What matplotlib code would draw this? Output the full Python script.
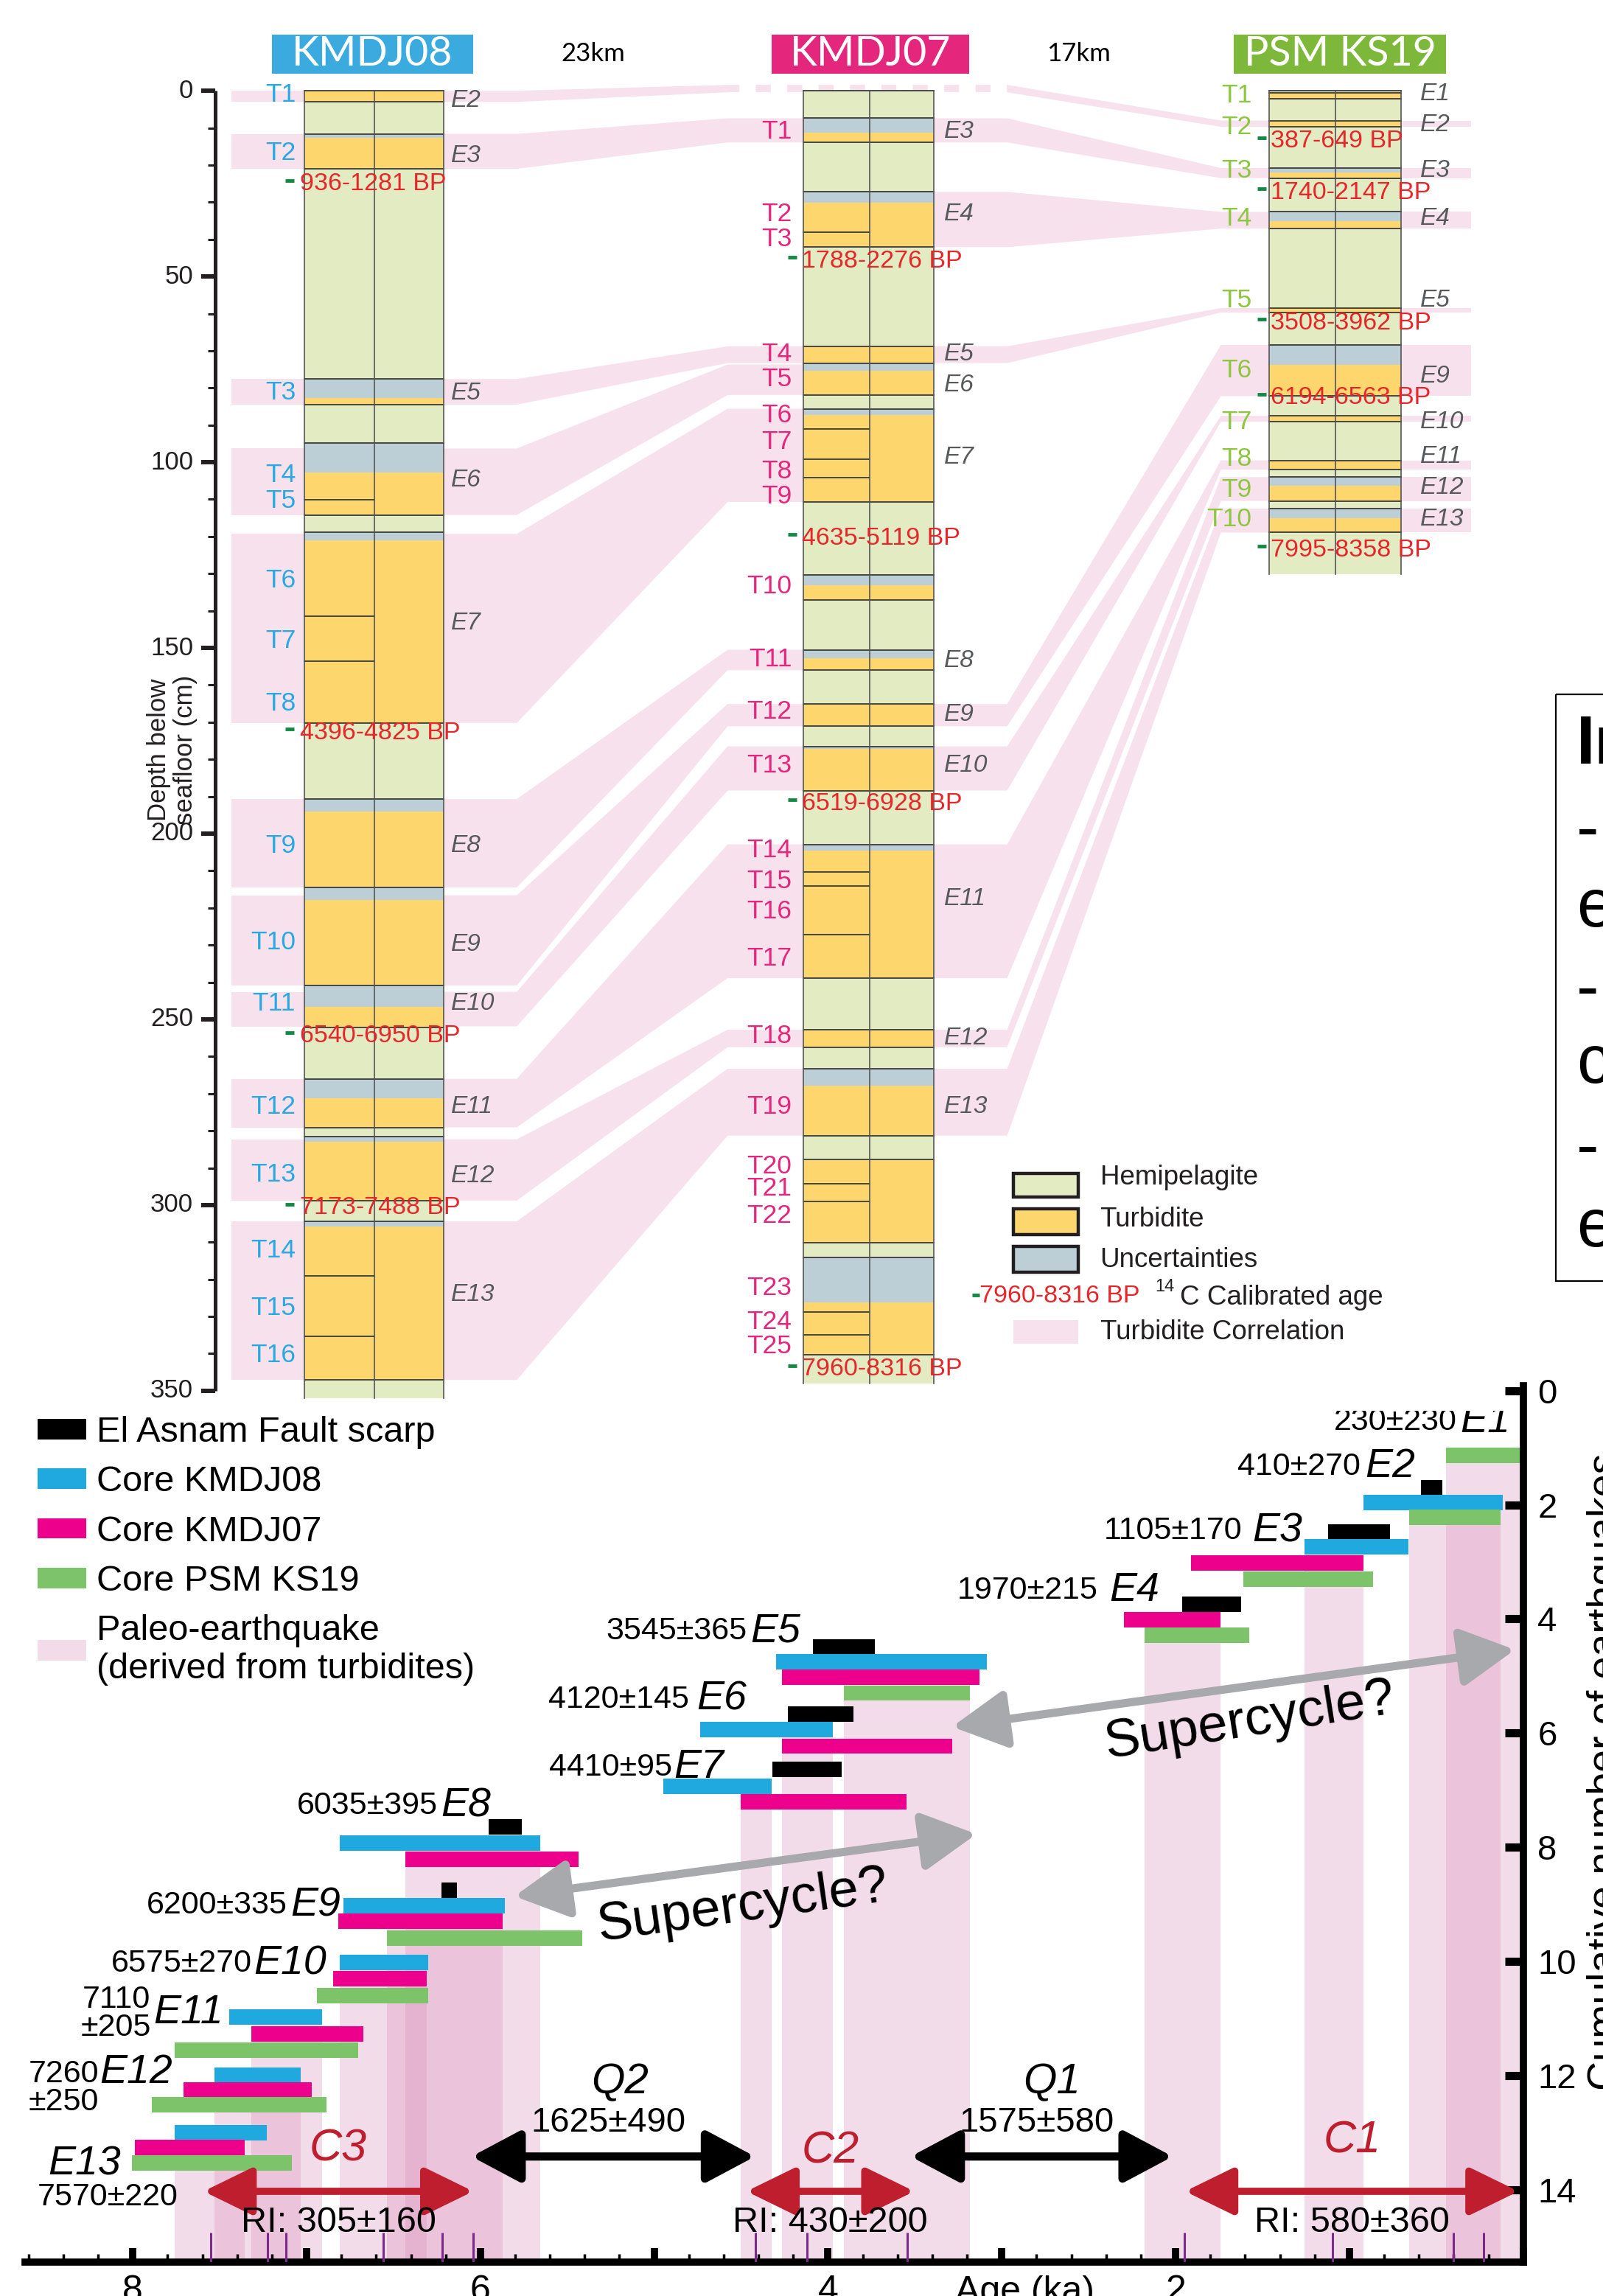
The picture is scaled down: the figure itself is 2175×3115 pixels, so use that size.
import numpy as np
import matplotlib
matplotlib.use("Agg")
import matplotlib.pyplot as plt
from matplotlib.patches import Rectangle, Polygon, Patch
from matplotlib.transforms import Bbox

W, H = 2175, 3115
NARROW = ["Liberation Sans Narrow", "Liberation Sans", "DejaVu Sans"]
SANS = ["Liberation Sans", "DejaVu Sans"]
plt.rcParams["font.family"] = SANS

# ---------------- top panel data: core logs, depth below seafloor (cm) ----------------
# H hemipelagite, T turbidite, U uncertainty
kmdj08_bounds = [0, 3, 11.6, 12.7, 21, 77.6, 82.7, 84.5, 94.8, 102.8, 114.2, 118.8, 121.1,
                 170.2, 190.7, 194.0, 214.5, 217.8, 240.9, 246.6, 252.1, 266.0, 271.2, 279.1,
                 281.5, 283.0, 298.8, 304.4, 305.8, 347.1, 352]
kmdj08_kinds = "THUTHUTHUTHUTHUTUTUTHUTHUTHUTH"
kmdj08_sub = [110.1, 141.5, 153.6, 319.0, 335.3]

kmdj07_bounds = [0, 7.4, 11.3, 13.9, 27.2, 30.2, 42.1, 68.8, 73.3, 75.4, 81.9, 85.6, 87.2,
                 110.7, 130.4, 133.2, 137.0, 150.5, 152.7, 156.0, 165.1, 171.1, 176.5, 177.2,
                 188.4, 202.9, 204.5, 238.9, 252.8, 257.5, 263.3, 267.8, 281.3, 287.7, 310.2,
                 314.1, 326.2, 340.4, 348.0]
kmdj07_kinds = "HUTHUTHTUTHUTHUTHUTHTHUTHUTHTHUTHTHUTH"
kmdj07_sub = [38.0, 91.0, 99.2, 104.2, 210.4, 214.0, 227.2, 294.2, 299.1, 328.7, 335.0]

ks19_bounds = [0, 0.6, 2.1, 8.0, 9.7, 20.8, 22.0, 23.5, 32.6, 35.1, 37.1, 58.5, 59.7, 68.4,
               73.8, 82.2, 87.5, 89.1, 99.5, 102.0, 104.0, 106.4, 110.4, 112.5, 115.1, 118.9, 130.1]
ks19_kinds = "HTHTHUTHUTHTHUTHTHTHUTHUTH"
ks19_sub = []

# turbidite correlation (event E1..E13): depth range in each core
corr08 = [None, (0, 3.0), (11.6, 21), None, (77.6, 84.5), (96.3, 114.2), (119.3, 170.2),
          (190.7, 214.5), (216.6, 240.9), (242.6, 251.9), (266, 279.1), (282.3, 298.8), (304.4, 347.1)]
corr07 = [None, (-1.6, 0.4), (7.4, 13.9), (27.2, 42.1), (68.8, 73.3), (73.7, 81.9), (85.6, 110.7),
          (150.5, 156.0), (165.1, 171.1), (176.5, 188.4), (202.9, 238.9), (252.8, 257.5), (263.3, 281.3)]
corr19 = [None, (8.0, 9.7), (20.8, 23.5), (32.6, 37.1), (58.5, 59.7), None, None, None,
          (68.4, 82.2), (87.5, 89.1), (99.5, 102.0), (104.0, 110.4), (112.5, 118.9)]

t08_depth = [1.1, 16.8, 81.3, 103.4, 110.4, 131.8, 148.2, 164.9, 203.2, 229.3, 245.7, 273.5,
             291.7, 312.2, 327.7, 340.5]
e08_names = ["E2", "E3", "E5", "E6", "E7", "E8", "E9", "E10", "E11", "E12", "E13"]
e08_depth = [2.7, 17.6, 81.5, 104.9, 143.3, 203.2, 229.8, 245.7, 273.5, 292.2, 324.1]

t07_depth = [10.9, 33.3, 40.0, 71.0, 77.6, 87.4, 94.5, 102.5, 109.2, 133.5, 153.1, 167.2, 181.7,
             204.5, 212.8, 220.9, 233.7, 254.5, 273.5, 289.6, 295.6, 302.9, 322.4, 331.4, 338.0]
e07_names = ["E3", "E4", "E5", "E6", "E7", "E8", "E9", "E10", "E11", "E12", "E13"]
e07_depth = [10.9, 33.3, 71.0, 79.2, 98.6, 153.5, 168.0, 181.7, 217.5, 255.0, 273.5]

t19_depth = [1.3, 9.7, 21.5, 34.3, 56.5, 75.3, 89.1, 99.0, 107.4, 115.3]
e19_names = ["E1", "E2", "E3", "E4", "E5", "E9", "E10", "E11", "E12", "E13"]
e19_depth = [0.8, 9.2, 21.5, 34.3, 56.5, 76.8, 89.1, 98.5, 106.9, 115.3]

dates08 = ["936-1281 BP", "4396-4825 BP", "6540-6950 BP", "7173-7488 BP"]
dates08_depth = [25.1, 172.9, 254.5, 300.8]
dates07 = ["1788-2276 BP", "4635-5119 BP", "6519-6928 BP", "7960-8316 BP"]
dates07_depth = [45.9, 120.5, 191.9, 344.2]
dates19 = ["387-649 BP", "1740-2147 BP", "3508-3962 BP", "6194-6563 BP", "7995-8358 BP"]
dates19_depth = [13.6, 27.4, 62.5, 82.7, 123.6]

depth_ticks = np.arange(0, 351, 10)

# ---------------- bottom panel data: age (ka) vs cumulative number of earthquakes ----------------
scarp_ev = [2, 3, 4, 5, 6, 7, 8, 9]
scarp_old = [0.59, 1.121, 1.964, 4.087, 4.232, 4.318, 5.953, 6.222]
scarp_young = [0.464, 0.768, 1.621, 3.730, 3.853, 3.920, 5.763, 6.134]
scarp_n = [1.70, 2.48, 3.74, 4.49, 5.67, 6.64, 7.64, 8.75]

k08_ev = [2, 3, 5, 6, 7, 8, 9, 10, 11, 12, 13]
k08_old = [0.919, 1.258, 4.299, 4.736, 4.948, 6.808, 6.787, 6.808, 7.445, 7.531, 7.758]
k08_young = [0.119, 0.660, 3.085, 3.972, 4.324, 5.657, 5.860, 6.302, 6.911, 7.032, 7.227]
k08_n = [1.96, 2.74, 4.75, 5.94, 6.93, 7.93, 9.02, 10.02, 10.98, 12.0, 13.0]

k07_ev = [3, 4, 5, 6, 7, 8, 9, 10, 11, 12, 13]
k07_old = [1.913, 2.298, 4.264, 4.264, 4.502, 6.432, 6.816, 6.849, 7.320, 7.707, 7.99]
k07_young = [0.919, 1.743, 3.130, 3.286, 3.550, 5.437, 5.870, 6.308, 6.672, 6.970, 7.357]
k07_n = [3.02, 4.01, 5.02, 6.23, 7.21, 8.21, 9.30, 10.30, 11.27, 12.25, 13.26]

k19_ev = [1, 2, 3, 4, 5, 9, 10, 11, 12, 13]
k19_old = [0.443, 0.654, 1.611, 2.180, 3.907, 6.538, 6.94, 7.758, 7.89, 8.004]
k19_young = [0.0, 0.131, 0.864, 1.576, 3.184, 5.412, 6.302, 6.703, 6.884, 7.083]
k19_n = [1.14, 2.22, 3.30, 4.28, 5.30, 9.59, 10.60, 11.56, 12.51, 13.53]

event_ages = ["230±230", "410±270", "1105±170", "1970±215", "3545±365", "4120±145", "4410±95",
              "6035±395", "6200±335", "6575±270", "7110\n±205", "7260\n±250", "7570±220"]
dated_ages = [7.552, 7.223, 7.120, 6.561, 6.22, 6.041, 4.416, 4.119, 3.546, 1.949, 1.095, 0.4, 0.227]

quiet_names = ["Q2", "Q1"]
quiet_values = ["1625±490", "1575±580"]
quiet_span = [(6.051, 4.42), (3.524, 2.017)]
cluster_names = ["C3", "C2", "C1"]
cluster_ri = ["RI: 305±160", "RI: 430±200", "RI: 580±360"]
cluster_span = [(7.593, 6.041), (4.469, 3.503), (1.945, 0.027)]
super_span = [((5.804, 8.86), (3.146, 7.77)), ((3.286, 5.89), (0.047, 4.54))]

# colours
C_HEMI, C_TURB, C_UNC = "#E3EBC2", "#FDD66E", "#BDCFD6"
C_CORR = "#F6E1ED"
C_08, C_07, C_19 = "#29A9E0", "#E4267D", "#8DC63F"
C_DATE, C_DASH, C_ELAB, C_LINE = "#E8262A", "#138A43", "#58595B", "#3A3A3A"
B_BLUE, B_MAG, B_GREEN = "#1FA9DF", "#EC008C", "#7DC36A"
B_BAND = (0.85, 0.55, 0.72)

fig = plt.figure(figsize=(W / 100, H / 100), dpi=100)
fig.patch.set_facecolor("white")

# ======================= top panel =======================
ax_top = fig.add_axes([0, 1 - 1900 / H, 1, 1900 / H])
ax_top.set_xlim(0, 1095)
ax_top.set_ylim((1900 - 123.2) / 5.039, -123.2 / 5.039)
ax_top.axis("off")

X08 = (208, 303, 256)
X07 = (549, 638, 594)
X19 = (867, 957, 912)


def link(xa, da, xb, db, sa, sb):
    pts = [(xa, da[0]), (sa, da[0]), (sb, db[0]), (xb, db[0]),
           (xb, db[1]), (sb, db[1]), (sa, da[1]), (xa, da[1])]
    ax_top.add_patch(Polygon(pts, closed=True, fc=C_CORR, ec="none", zorder=1))


for k, (b08, b07, b19) in enumerate(zip(corr08, corr07, corr19)):
    dashed = k == 1
    if b08 is not None:
        ax_top.add_patch(Rectangle((158, b08[0]), X08[1] - 158, b08[1] - b08[0],
                                   fc=C_CORR, ec="none", zorder=1))
    if b08 is not None and b07 is not None:
        link(X08[1], b08, 497 if dashed else X07[0], b07, 353, 497)
    if b07 is not None and b19 is not None:
        link(688 if dashed else X07[1], b07, X19[0], b19, 688, 834)
    if b19 is not None:
        ax_top.add_patch(Rectangle((X19[0], b19[0]), 1005 - X19[0], b19[1] - b19[0],
                                   fc=C_CORR, ec="none", zorder=1))
    if dashed:
        mid = (b07[0] + b07[1]) / 2
        ax_top.plot([495, 688], [mid, mid], color=C_CORR, lw=7.3, dashes=(2.0, 2.2),
                    dash_capstyle="butt", zorder=1)


def draw_core(bounds, kinds, sub, xs):
    x0, x1, xm = xs
    fill = {"H": C_HEMI, "T": C_TURB, "U": C_UNC}
    for top, bot, kd in zip(bounds[:-1], bounds[1:], kinds):
        ax_top.add_patch(Rectangle((x0, top), x1 - x0, bot - top, fc=fill[kd], ec="none", zorder=3))
    for i in range(len(bounds) - 1):
        if i > 0 and kinds[i - 1] == "U" and kinds[i] == "T":
            continue
        ax_top.plot([x0, x1], [bounds[i]] * 2, color=C_LINE, lw=1.3, zorder=4)
    for d in sub:
        ax_top.plot([x0, xm], [d, d], color=C_LINE, lw=1.3, zorder=4)
    for x in (x0, xm, x1):
        ax_top.plot([x, x], [bounds[0], bounds[-1]], color="#555555", lw=1.2, zorder=4)


draw_core(kmdj08_bounds, kmdj08_kinds, kmdj08_sub, X08)
draw_core(kmdj07_bounds, kmdj07_kinds, kmdj07_sub, X07)
draw_core(ks19_bounds, ks19_kinds, ks19_sub, X19)

# T / E labels
for depths, xr, col in ((t08_depth, 202, C_08), (t07_depth, 541, C_07), (t19_depth, 855, C_19)):
    for i, d in enumerate(depths):
        ax_top.text(xr, d, f"T{i + 1}", ha="right", va="center", color=col,
                    fontsize=25.5, family=NARROW, zorder=6)
for names, depths, xl in ((e08_names, e08_depth, 308), (e07_names, e07_depth, 645),
                          (e19_names, e19_depth, 970)):
    for nm, d in zip(names, depths):
        ax_top.text(xl, d, nm, ha="left", va="center", color=C_ELAB, fontsize=24,
                    style="italic", family=NARROW, zorder=6)

# 14C ages
for labels, depths, xd, xt in ((dates08, dates08_depth, 198, 205), (dates07, dates07_depth, 541, 548),
                               (dates19, dates19_depth, 862, 868)):
    for lb, d in zip(labels, depths):
        ax_top.plot([xd - 3, xd + 3], [d - 1, d - 1], color=C_DASH, lw=3.5, zorder=6,
                    solid_capstyle="butt")
        ax_top.text(xt, d, lb, ha="left", va="center", color=C_DATE, fontsize=24.5,
                    family=NARROW, zorder=6)

# depth axis
ax_top.plot([147.2, 147.2], [0, 350], color="#231F20", lw=3.6, solid_capstyle="butt", zorder=5)
for d in depth_ticks:
    major = d % 50 == 0
    ax_top.plot([137.6 if major else 141.8, 147.2], [d, d], color="#231F20",
                lw=4.3 if major else 2.2, solid_capstyle="butt", zorder=5)
    if major:
        ax_top.text(132, d, f"{d}", ha="right", va="center", fontsize=25, family=NARROW,
                    color="#231F20")
ax_top.text(108.6, 177.5, "Depth below", rotation=90, ha="center", va="center", fontsize=25,
            family=NARROW, color="#231F20")
ax_top.text(126.5, 177.5, "seafloor (cm)", rotation=90, ha="center", va="center", fontsize=25,
            family=NARROW, color="#231F20")

# core titles and distances
for name, (xa, xb), col in (("KMDJ08", (186, 323), "#3AAADF"), ("KMDJ07", (527, 662), "#E4267D"),
                            ("PSM KS19", (843, 988), "#7DB83A")):
    ax_top.add_patch(Rectangle((xa, -15.2), xb - xa, 10.5, fc=col, ec="none"))
    ax_top.text((xa + xb) / 2, -9.8, name, ha="center", va="center", color="white",
                fontsize=40, family=["Lato", "Liberation Sans"])
ax_top.text(405, -9.9, "23km", ha="center", va="center", fontsize=25, family=["Lato", "Liberation Sans"])
ax_top.text(737, -9.9, "17km", ha="center", va="center", fontsize=25, family=["Lato", "Liberation Sans"])

# lithology legend
for (ya, yb), col in (((291.4, 297.9), C_HEMI), ((301.1, 307.9), C_TURB), ((311.1, 318.0), C_UNC)):
    ax_top.add_patch(Rectangle((692.4, ya), 44, yb - ya, fc=col, ec="#231F20", lw=3.2))
ax_top.add_patch(Rectangle((692.4, 331.0), 44, 6.4, fc=C_CORR, ec="none"))
for txt, d in (("Hemipelagite", 292.6), ("Turbidite", 303.9), ("Uncertainties", 314.8),
               ("Turbidite Correlation", 334.3)):
    ax_top.text(751.4, d, txt, ha="left", va="center", fontsize=26.5, family=NARROW, color="#231F20")
ax_top.plot([664, 669], [324.3, 324.3], color=C_DASH, lw=3.5, solid_capstyle="butt")
ax_top.text(669, 324.5, "7960-8316 BP", ha="left", va="center", fontsize=24.5, family=NARROW, color=C_DATE)
ax_top.text(789, 322.0, "14", ha="left", va="center", fontsize=17, family=NARROW, color="#231F20")
ax_top.text(806, 325.0, "C Calibrated age", ha="left", va="center", fontsize=26.5, family=NARROW,
            color="#231F20")

# cut-off note box at the right edge
ax_top.add_patch(Rectangle((1063, 162.4), 120, 158.1, fill=False, ec="black", lw=1.6, clip_on=False))
ax_top.text(1077, 176.4, "In", ha="left", va="center", fontsize=66, fontweight="bold", clip_on=False)
for txt, d in (("-", 199.7), ("e", 220.2), ("-", 242.4), ("c", 262.4), ("-", 285.1), ("e", 306.3)):
    ax_top.text(1077, d, txt, ha="left", va="center", fontsize=66, clip_on=False)

# ======================= bottom panel =======================
ax_bot = fig.add_axes([34 / W, 1 - 3069 / H, (2066.7 - 34) / W, (3069 - 1880) / H])
ax_bot.set_xlim(8.62, 0)
ax_bot.set_ylim(15.27, -0.086)
ax_bot.patch.set_alpha(0)
for s in ("top", "left"):
    ax_bot.spines[s].set_visible(False)
for s in ("bottom", "right"):
    ax_bot.spines[s].set_linewidth(7)

BAR_H = 0.27
# paleo-earthquake windows: overlap of the three core age ranges
for ev in range(1, 14):
    olds, youngs, ns = [], [], []
    for evs, old, young, nn in ((k08_ev, k08_old, k08_young, k08_n), (k07_ev, k07_old, k07_young, k07_n),
                                (k19_ev, k19_old, k19_young, k19_n)):
        if ev in evs:
            j = evs.index(ev)
            olds.append(old[j]); youngs.append(young[j]); ns.append(nn[j])
    lo, hi = max(youngs), min(olds)
    top = min(ns) - BAR_H / 2
    ax_bot.bar((lo + hi) / 2, 15.27 - top, width=hi - lo, bottom=top, color=B_BAND, alpha=0.3,
               edgecolor="none", zorder=0)

for old, young, nn, col in ((scarp_old, scarp_young, scarp_n, "black"), (k08_old, k08_young, k08_n, B_BLUE),
                            (k07_old, k07_young, k07_n, B_MAG), (k19_old, k19_young, k19_n, B_GREEN)):
    ax_bot.barh(nn, np.array(old) - np.array(young), left=young, height=BAR_H, color=col, zorder=2)

ax_bot.vlines(dated_ages, 14.75, 15.27, color="#7B2A8C", lw=2.2, zorder=3)

# event labels
e_age = [0.362, 0.911, 1.556, 2.380, 4.444, 4.757, 4.887, 6.226, 7.09, 7.305, 7.881, 8.19, 8.487]
e_n = [0.55, 1.34, 2.46, 3.5, 4.22, 5.41, 6.60, 7.28, 9.02, 10.04, 10.91, 11.95, 13.56]
num_age = [0.380, 0.938, 1.615, 2.447, 4.465, 4.801, 4.898, 6.246, 7.11, 7.316, 8.096, 8.6, 8.549]
num_n = [0.55, 1.34, 2.46, 3.5, 4.22, 5.41, 6.60, 7.28, 9.02, 10.04, 10.92, 12.22, 14.13]
num_ha = ["right"] * 10 + ["center", "left", "left"]
clip = Bbox([[0, 0], [W, H - 1914]])
for i in range(13):
    t1 = ax_bot.text(e_age[i], e_n[i], f"E{i + 1}", ha="left", va="center", fontsize=40,
                     style="italic", zorder=5)
    t2 = ax_bot.text(num_age[i], num_n[i], event_ages[i], ha=num_ha[i], va="center", fontsize=31,
                     linespacing=0.92, multialignment="center" if i == 10 else "left", zorder=5)
    if i == 0:
        for t in (t1, t2):
            t.set_clip_box(clip)
            t.set_clip_on(True)

arrow_kw = dict(shrinkA=0, shrinkB=0)
for (p0, p1) in super_span:
    ax_bot.annotate("", xy=p1, xytext=p0, arrowprops=dict(
        arrowstyle="<|-|>,head_length=0.45,head_width=0.24", mutation_scale=100, lw=8,
        color="#A7A9AC", **arrow_kw), zorder=6)
for (x, y, rot) in ((4.49, 9.05, 8), (1.57, 5.8, 9)):
    ax_bot.text(x, y, "Supercycle?", ha="center", va="center", rotation=rot, rotation_mode="anchor",
                fontsize=52, zorder=6)

for nm, val, (a0, a1), xl in zip(quiet_names, quiet_values, quiet_span, (5.198, 2.713)):
    ax_bot.annotate("", xy=(a1, 13.42), xytext=(a0, 13.42), arrowprops=dict(
        arrowstyle="<|-|>,head_length=0.45,head_width=0.24", mutation_scale=90, lw=8,
        color="black", **arrow_kw), zorder=6)
    ax_bot.text(xl, 12.12, nm, ha="center", va="center", fontsize=42, style="italic")
    ax_bot.text((a0 + a1) / 2 + 0.03, 12.83, val, ha="center", va="center", fontsize=34)

for nm, ri, (a0, a1), ny in zip(cluster_names, cluster_ri, cluster_span, (13.29, 13.33, 13.15)):
    ax_bot.annotate("", xy=(a1, 14.03), xytext=(a0, 14.03), arrowprops=dict(
        arrowstyle="<|-|>,head_length=0.45,head_width=0.22", mutation_scale=90, lw=7,
        color="#BE1E2D", **arrow_kw), zorder=6)
    ax_bot.text((a0 + a1) / 2, ny, nm, ha="center", va="center", fontsize=44, style="italic",
                color="#BE1E2D", zorder=6)
    ax_bot.text((a0 + a1) / 2, 14.58, ri, ha="center", va="center", fontsize=35, zorder=6)

# axes
ax_bot.set_xticks(np.arange(0, 9))
ax_bot.set_xticklabels([str(t) if t % 2 == 0 and t > 0 else "" for t in range(9)])
ax_bot.set_xticks(np.arange(0, 8.61, 0.2), minor=True)
ax_bot.tick_params(axis="x", which="major", direction="in", length=14, width=7, labelsize=36, pad=12)
ax_bot.tick_params(axis="x", which="minor", direction="in", length=8, width=2.5)
ax_bot.yaxis.tick_right()
ax_bot.set_yticks(np.arange(0, 15, 2))
ax_bot.tick_params(axis="y", which="major", direction="in", length=18, width=8, labelsize=34, pad=14,
                   left=False, right=True, labelright=True, labelleft=False)
ax_bot.text(2.868, 15.5, "Age (ka)", ha="center", va="top", fontsize=36)
fig.text(2179 / W, 1 - 2404 / H, "Cumulative number of earthquakes", rotation=90, ha="center",
         va="center", fontsize=40)

handles = [Patch(fc="black"), Patch(fc=B_BLUE), Patch(fc=B_MAG), Patch(fc=B_GREEN),
           Patch(fc=B_BAND, alpha=0.3)]
labels = ["El Asnam Fault scarp", "Core KMDJ08", "Core KMDJ07", "Core PSM KS19",
          "Paleo-earthquake\n(derived from turbidites)"]
fig.legend(handles, labels, loc="upper left", bbox_to_anchor=(50.9 / W, 1 - 1921 / H), frameon=False,
           fontsize=35, handlelength=1.37, handleheight=0.5, handletextpad=0.27, labelspacing=0.46,
           borderpad=0, borderaxespad=0)

fig.savefig("out.png", dpi=100)
